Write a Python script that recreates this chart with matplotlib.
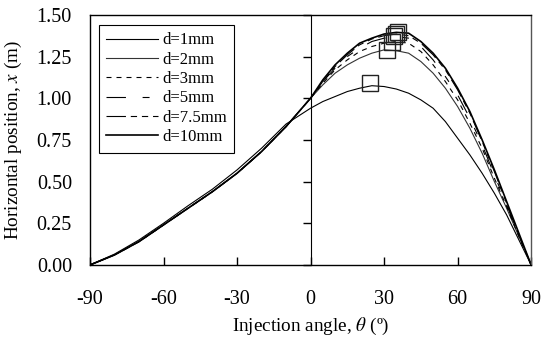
import matplotlib
matplotlib.use("Agg")
import matplotlib.pyplot as plt
import numpy as np

plt.rcParams['font.family'] = ['Liberation Serif', 'DejaVu Serif']
plt.rcParams['mathtext.fontset'] = 'stix'
plt.rcParams['lines.scale_dashes'] = False
plt.rcParams['axes.unicode_minus'] = False

# injection angle (deg)
theta = [-90, -80, -70, -60, -50, -40, -30, -20, -10,
         0, 5, 10, 15, 20, 25, 30, 35, 40, 45,
         50, 55, 60, 65, 70, 75, 80, 85, 90]

# horizontal position x (m) for each nozzle diameter
x_d1 = [0, 0.065, 0.15, 0.25, 0.355, 0.455, 0.57, 0.70, 0.845,
        0.94, 0.98, 1.01, 1.04, 1.06, 1.075, 1.07, 1.055, 1.03, 0.99,
        0.94, 0.86, 0.76, 0.66, 0.55, 0.43, 0.30, 0.15, 0]
x_d2 = [0, 0.06, 0.14, 0.24, 0.34, 0.44, 0.55, 0.68, 0.83,
        1.00, 1.08, 1.15, 1.20, 1.24, 1.27, 1.29, 1.285, 1.27, 1.22,
        1.15, 1.06, 0.95, 0.82, 0.67, 0.50, 0.34, 0.17, 0]
x_d3 = [0, 0.06, 0.14, 0.24, 0.34, 0.44, 0.55, 0.68, 0.83,
        1.00, 1.09, 1.17, 1.23, 1.28, 1.31, 1.33, 1.34, 1.33, 1.28,
        1.20, 1.10, 0.99, 0.85, 0.70, 0.52, 0.35, 0.17, 0]
x_d5 = [0, 0.06, 0.14, 0.24, 0.34, 0.44, 0.55, 0.68, 0.83,
        1.00, 1.10, 1.18, 1.25, 1.30, 1.34, 1.36, 1.37, 1.36, 1.31,
        1.23, 1.13, 1.02, 0.88, 0.72, 0.54, 0.36, 0.18, 0]
x_d75 = [0, 0.06, 0.14, 0.24, 0.34, 0.44, 0.55, 0.68, 0.83,
         1.00, 1.10, 1.19, 1.26, 1.32, 1.355, 1.375, 1.385, 1.375, 1.33,
         1.26, 1.17, 1.05, 0.91, 0.74, 0.56, 0.37, 0.18, 0]
x_d10 = [0, 0.06, 0.14, 0.24, 0.34, 0.44, 0.55, 0.68, 0.83,
         1.00, 1.11, 1.20, 1.27, 1.33, 1.36, 1.385, 1.395, 1.39, 1.34,
         1.27, 1.18, 1.06, 0.92, 0.75, 0.57, 0.38, 0.19, 0]

# maximum points (square markers)
peak_theta = [24.2, 31.3, 33.3, 34.0, 35.0, 35.6]
peak_x = [1.09, 1.29, 1.34, 1.374, 1.385, 1.395]

labels = ['d=1mm', 'd=2mm', 'd=3mm', 'd=5mm', 'd=7.5mm', 'd=10mm']
series = [x_d1, x_d2, x_d3, x_d5, x_d75, x_d10]
styles = [
    dict(color='black', lw=0.8, ls='-'),
    dict(color='#333333', lw=0.8, ls='-'),
    dict(color='black', lw=0.8, dashes=(3.6, 3.6)),
    dict(color='black', lw=0.8, dashes=(14, 12, 5, 12)),
    dict(color='black', lw=0.8, dashes=(14, 3.5, 4.5, 3.5, 4.5, 3.5)),
    dict(color='black', lw=1.2, ls='-'),
]

fig = plt.figure(figsize=(5.42, 3.45), dpi=100)
ax = fig.add_axes([0.166, 0.232, 0.814, 0.725])

for xs, lab, st in zip(series, labels, styles):
    ax.plot(theta, xs, label=lab, **st)

ax.plot(peak_theta, peak_x, ls='none', marker='s', ms=11.5, mfc='none',
        mec='#222222', mew=1.0)

ax.set_xlim(-90, 90)
ax.set_ylim(0, 1.5)
ax.set_xticks([-90, -60, -30, 0, 30, 60, 90])
ax.set_yticks([0, 0.25, 0.5, 0.75, 1.0, 1.25, 1.5])
ax.set_yticklabels(['%.2f' % v for v in ax.get_yticks()])
ax.tick_params(axis='x', direction='in', length=6, width=1, pad=18, labelsize=14.5)
ax.tick_params(axis='y', length=0, pad=13, labelsize=14.5)

# y axis line with ticks drawn at theta = 0
sec = ax.secondary_yaxis(0.5)
sec.yaxis.set_ticks_position('left')
sec.set_yticks([0, 0.25, 0.5, 0.75, 1.0, 1.25, 1.5])
sec.tick_params(axis='y', direction='out', length=6, width=1,
                labelleft=False, labelright=False)
sec.spines['left'].set_linewidth(1)

for s in ax.spines.values():
    s.set_linewidth(1)
ax.spines['right'].set_color('#555555')

ax.set_xlabel(r'Injection angle, $\theta$ (º)', fontsize=13.8, labelpad=5)
ax.set_ylabel(r'Horizontal position, $x$ (m)', fontsize=13.8, labelpad=9)

leg = ax.legend(loc='upper left', bbox_to_anchor=(0.02, 0.96), borderaxespad=0,
                fontsize=12, handlelength=3.1, handletextpad=0.25,
                labelspacing=0.2, borderpad=0.45, fancybox=False,
                edgecolor='black', framealpha=1)
leg.get_frame().set_linewidth(0.8)

fig.savefig('out.png', dpi=100)
